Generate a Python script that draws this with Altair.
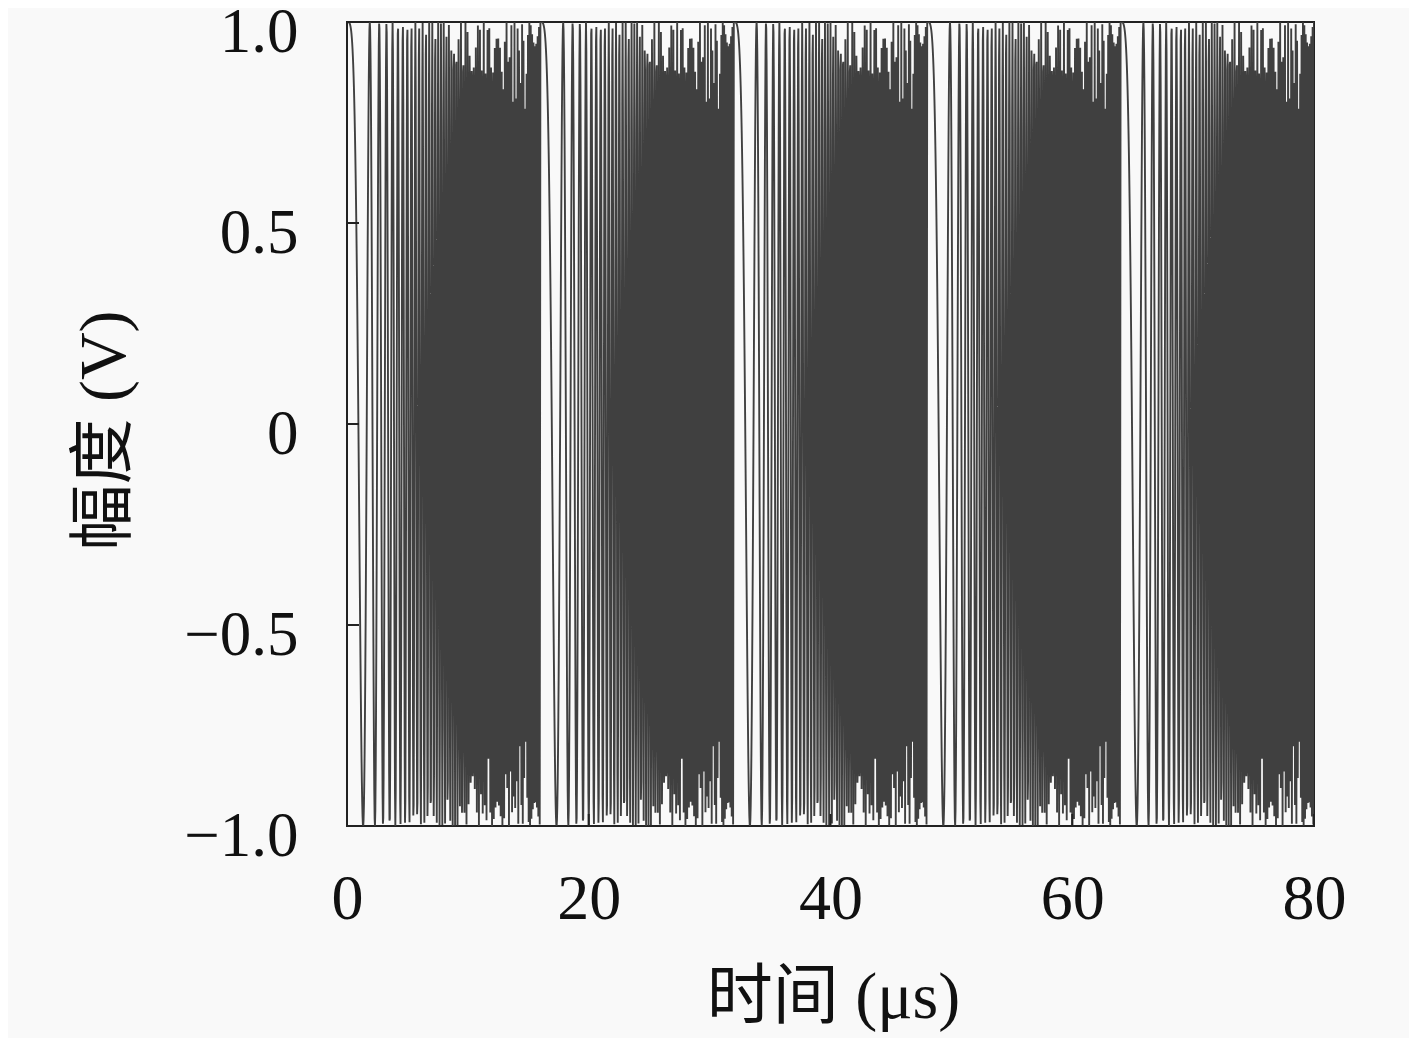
import altair as alt
import numpy as np
import pandas as pd

# ---- values ----
pulse_starts_us = [0.0, 16.0, 32.0, 48.0, 64.0]   # each LFM pulse restarts here
pulse_width_us = 16.0
chirp_start_mhz = 0.0
chirp_stop_mhz = 9.0
sample_rate_mhz = 35.0
amplitude_v = 1.0
time_span_us = [0.0, 80.0]
x_ticks = [0, 20, 40, 60, 80]
y_ticks = [-1.0, -0.5, 0.0, 0.5, 1.0]

# ---- sampled LFM pulse train ----
t = np.arange(time_span_us[0], time_span_us[1] + 1e-9, 1.0 / sample_rate_mhz)
starts = np.array(pulse_starts_us)
idx = np.searchsorted(starts, t, side="right") - 1
tau = t - starts[idx]
rate = (chirp_stop_mhz - chirp_start_mhz) / pulse_width_us
v = amplitude_v * np.cos(2 * np.pi * (chirp_start_mhz * tau + 0.5 * rate * tau ** 2))
sig = pd.DataFrame({"t": np.round(t, 4), "v": np.round(v, 4)})

W, H = 967, 804
FONT = "'Liberation Serif', 'Noto Sans CJK SC', serif"

xscale = alt.Scale(domain=time_span_us, nice=False, zero=False)
yscale = alt.Scale(domain=[-1, 1], nice=False)

line = alt.Chart(sig).mark_line(color="#404040", strokeWidth=1.9, clip=True).encode(
    x=alt.X("t:Q", scale=xscale,
            axis=alt.Axis(values=x_ticks, title="时间 (μs)", ticks=False, tickSize=0,
                          domain=False, grid=False, labelFontSize=64, labelPadding=41,
                          labelFlush=False, labelOverlap=False, labelBound=False,
                          labelFont=FONT, labelColor="#111",
                          titleFont=FONT, titleFontSize=66, titleFontWeight="normal",
                          titleColor="#111", titleX=486, titleY=171,
                          titleBaseline="middle", titleAlign="center")),
    y=alt.Y("v:Q", scale=yscale,
            axis=alt.Axis(values=y_ticks, title="幅度 (V)", ticks=False, tickSize=0,
                          domain=False, grid=False, labelFontSize=63, labelPadding=49,
                          labelOffset=10, labelOverlap=False, labelBound=False,
                          labelExpr="datum.value == 0 ? '0' : format(datum.value, '.1f')",
                          labelFont=FONT, labelColor="#111",
                          titleFont=FONT, titleFontSize=66, titleFontWeight="normal",
                          titleColor="#111", titleX=-243, titleY=408,
                          titleBaseline="middle", titleAlign="center", titleAngle=270)),
)

yt = alt.Chart(pd.DataFrame({"v": y_ticks})).mark_rule(color="#222", strokeWidth=2).encode(
    y=alt.Y("v:Q", scale=yscale), x=alt.value(0), x2=alt.value(12))
xt = alt.Chart(pd.DataFrame({"t": x_ticks})).mark_rule(color="#222", strokeWidth=2).encode(
    x=alt.X("t:Q", scale=xscale), y=alt.value(H), y2=alt.value(H - 12))

chart = alt.layer(line, xt, yt).properties(
    width=W, height=H,
    autosize="none",
    padding={"left": 339, "top": 14, "right": 95, "bottom": 212},
    background="#f9f9f9",
).configure_view(stroke="#222", strokeWidth=2)

chart.save("out.html", embed_options={"renderer": "svg", "actions": False})
